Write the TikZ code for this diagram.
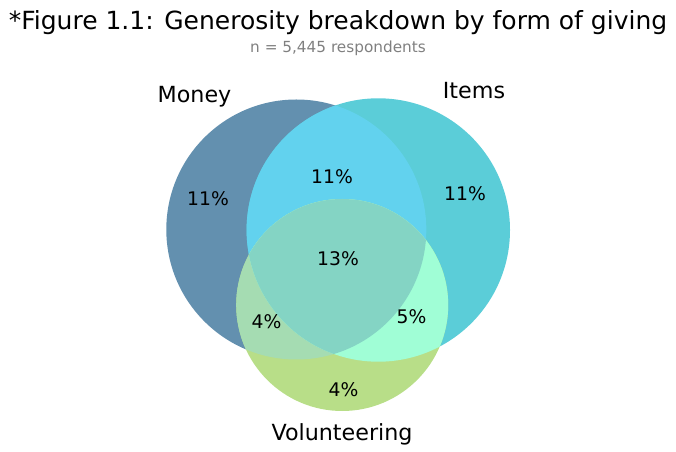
\documentclass[tikz,border=0pt]{standalone}
\usepackage{fontspec}
\setmainfont{DejaVu Sans}
\usetikzlibrary{positioning}
\definecolor{mMoney}{RGB}{99,144,175}
\definecolor{mItems}{RGB}{91,205,216}
\definecolor{mVol}{RGB}{184,222,136}
\definecolor{mMI}{RGB}{98,210,238}
\definecolor{mMV}{RGB}{165,220,178}
\definecolor{mIV}{RGB}{160,254,214}
\definecolor{mAll}{RGB}{132,212,196}
\definecolor{mSub}{RGB}{128,128,128}
\tikzset{
  pct/.style={anchor=base, font=\fontsize{13.5}{14}\selectfont},
  setlabel/.style={anchor=base, font=\fontsize{16}{18}\selectfont}
}
\begin{document}
\begin{tikzpicture}[x=0.72pt, y=-0.72pt]
    \useasboundingbox (0,0) rectangle (676,452);
    % Circles
    \def\moneyc{(296.3,229.5) circle (130)}
    \def\itemsc{(378.3,230) circle (131.7)}
    \def\volc{(342.2,305) circle (106)}
    % Single regions
    \fill[mMoney] \moneyc;
    \fill[mItems] \itemsc;
    \fill[mVol] \volc;
    % Pairwise overlaps
    \begin{scope}
      \clip \moneyc;
      \fill[mMI] \itemsc;
      \fill[mMV] \volc;
    \end{scope}
    \begin{scope}
      \clip \itemsc;
      \fill[mIV] \volc;
    \end{scope}
    % Centre
    \begin{scope}
      \clip \moneyc;
      \clip \itemsc;
      \fill[mAll] \volc;
    \end{scope}
    % Title
    \node[anchor=base, font=\fontsize{18}{20}\selectfont] (title) at (338,29.3) {*Figure 1.1: Generosity breakdown by form of giving};
    \node[anchor=base, mSub, font=\fontsize{11}{12}\selectfont] (subtitle) at (338,53) {n = 5,445 respondents};
    % Set labels
    \node[setlabel] (money) at (194.5,102.3) {Money};
    \node[setlabel] (items) at (474,99) {Items};
    \node[setlabel] (vol) at (342,440) {Volunteering};
    % Percentages
    \node[pct] (m) at (208,206) {11\%};
    \node[pct] (mi) at (332,183.3) {11\%};
    \node[pct] (i) at (465,200.7) {11\%};
    \node[pct] (miv) at (338,266) {13\%};
    \node[pct] (mv) at (266.5,328.3) {4\%};
    \node[pct] (iv) at (411.5,324) {5\%};
    \node[pct] (v) at (343.5,396.7) {4\%};
\end{tikzpicture}
\end{document}
